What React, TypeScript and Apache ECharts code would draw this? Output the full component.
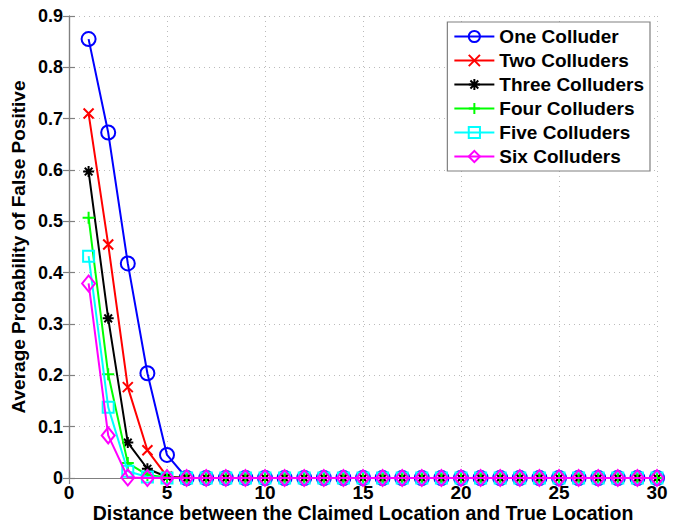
import React, { useEffect, useRef } from "react";
import * as echarts from "echarts";

const distances = [1, 2, 3, 4, 5, 6, 7, 8, 9, 10, 11, 12, 13, 14, 15, 16, 17, 18, 19, 20, 21, 22, 23, 24, 25, 26, 27, 28, 29, 30];
const oneColluder = [0.855, 0.673, 0.418, 0.204, 0.045, 0, 0, 0, 0, 0, 0, 0, 0, 0, 0, 0, 0, 0, 0, 0, 0, 0, 0, 0, 0, 0, 0, 0, 0, 0];
const twoColluders = [0.71, 0.455, 0.177, 0.054, 0.003, 0, 0, 0, 0, 0, 0, 0, 0, 0, 0, 0, 0, 0, 0, 0, 0, 0, 0, 0, 0, 0, 0, 0, 0, 0];
const threeColluders = [0.597, 0.311, 0.069, 0.018, 0.002, 0, 0, 0, 0, 0, 0, 0, 0, 0, 0, 0, 0, 0, 0, 0, 0, 0, 0, 0, 0, 0, 0, 0, 0, 0];
const fourColluders = [0.507, 0.202, 0.029, 0.006, 0.001, 0, 0, 0, 0, 0, 0, 0, 0, 0, 0, 0, 0, 0, 0, 0, 0, 0, 0, 0, 0, 0, 0, 0, 0, 0];
const fiveColluders = [0.432, 0.138, 0.013, 0.002, 0, 0, 0, 0, 0, 0, 0, 0, 0, 0, 0, 0, 0, 0, 0, 0, 0, 0, 0, 0, 0, 0, 0, 0, 0, 0];
const sixColluders = [0.379, 0.083, 0.001, 0, 0, 0, 0, 0, 0, 0, 0, 0, 0, 0, 0, 0, 0, 0, 0, 0, 0, 0, 0, 0, 0, 0, 0, 0, 0, 0];
const seriesNames = ["One Colluder", "Two Colluders", "Three Colluders", "Four Colluders", "Five Colluders", "Six Colluders"];
const seriesColors = ["#0000ff", "#ff0000", "#000000", "#00ff00", "#00ffff", "#ff00ff"];

const FONT = "'Liberation Sans', Arial, sans-serif";

const crossPath = "path://M0,0L10,10M10,0L0,10";
const plusPath = "path://M5,0L5,10M0,5L10,5";
const starPath = "path://M5,0L5,10M0,5L10,5M1.5,1.5L8.5,8.5M8.5,1.5L1.5,8.5";
const squarePath = "path://M0,0L10,0L10,10L0,10Z";
const diamondPath = "path://M5,0L10,7L5,14L0,7Z";
const circlePath = "path://M10,5A5,5,0,1,1,0,5A5,5,0,1,1,10,5Z";

export default function App() {
  const ref = useRef<HTMLDivElement>(null);
  useEffect(() => {
    if (!ref.current) return;
    const chart = echarts.init(ref.current, null, { renderer: "svg" });
    const allData = [oneColluder, twoColluders, threeColluders, fourColluders, fiveColluders, sixColluders];
    const symbols = [circlePath, crossPath, starPath, plusPath, squarePath, diamondPath];
    const sizes: any[] = [[14, 14], [10, 10], [11, 11], [12, 12], [11, 11], [13, 16]];
    const series = allData.map((vals, i) => ({
      name: seriesNames[i],
      type: "line",
      data: distances.map((d, j) => [d, vals[j]]),
      symbol: symbols[i],
      symbolSize: sizes[i],
      showAllSymbol: true,
      symbolKeepAspect: false,
      z: 2 + i,
      lineStyle: { color: seriesColors[i], width: 2 },
      itemStyle: { color: "rgba(0,0,0,0)", borderColor: seriesColors[i], borderWidth: 2 },
      emphasis: { disabled: true },
    }));
    const axisLineStyle = { color: "#808080", width: 1.2 };
    chart.setOption({
      animation: false,
      backgroundColor: "#ffffff",
      grid: { left: 69, right: 28, top: 16, bottom: 47, show: false, outerBoundsMode: "none", containLabel: false },
      legend: {
        right: 35,
        top: 22,
        orient: "vertical",
        backgroundColor: "#ffffff",
        borderColor: "#808080",
        borderWidth: 1.2,
        borderRadius: 0,
        padding: [5, 6, 5, 6],
        itemWidth: 40,
        itemHeight: 14,
        itemGap: 5,
        textStyle: { fontFamily: FONT, fontWeight: "bold", fontSize: 19, lineHeight: 19, color: "#000" },
        data: seriesNames,
      },
      xAxis: [
        {
          type: "value",
          min: 0,
          max: 30,
          interval: 5,
          name: "Distance between the Claimed Location and True Location",
          nameLocation: "middle",
          nameGap: 25,
          nameMoveOverlap: false,
          nameTextStyle: { fontFamily: FONT, fontWeight: "bold", fontSize: 19.5, lineHeight: 20, color: "#000" },
          axisLine: { show: true, lineStyle: axisLineStyle },
          axisTick: { show: true, inside: true, length: 6, lineStyle: axisLineStyle },
          axisLabel: { fontFamily: FONT, fontWeight: "bold", fontSize: 19, color: "#000", margin: 5 },
          splitLine: { show: true, lineStyle: { color: "#bbbbbb", type: [1, 4] } },
        },
        {
          type: "value",
          position: "top",
          min: 0,
          max: 30,
          interval: 5,
          axisLine: { show: true, lineStyle: axisLineStyle },
          axisTick: { show: true, inside: true, length: 6, lineStyle: axisLineStyle },
          axisLabel: { show: false },
          splitLine: { show: false },
        },
      ],
      yAxis: [
        {
          type: "value",
          min: 0,
          max: 0.9,
          interval: 0.1,
          name: "Average Probability of False Positive",
          nameLocation: "middle",
          nameGap: 41,
          nameMoveOverlap: false,
          nameTextStyle: { fontFamily: FONT, fontWeight: "bold", fontSize: 19, color: "#000" },
          axisLine: { show: true, lineStyle: axisLineStyle },
          axisTick: { show: true, inside: true, length: 6, lineStyle: axisLineStyle },
          axisLabel: { fontFamily: FONT, fontWeight: "bold", fontSize: 18, color: "#000", margin: 6 },
          splitLine: { show: true, lineStyle: { color: "#bbbbbb", type: [1, 4] } },
        },
        {
          type: "value",
          position: "right",
          min: 0,
          max: 0.9,
          interval: 0.1,
          axisLine: { show: true, lineStyle: axisLineStyle },
          axisTick: { show: true, inside: true, length: 6, lineStyle: axisLineStyle },
          axisLabel: { show: false },
          splitLine: { show: false },
        },
      ],
      series,
    });
    return () => chart.dispose();
  }, []);
  return <div ref={ref} style={{ position: "fixed", left: 0, top: 0, width: 685, height: 525 }} />;
}
